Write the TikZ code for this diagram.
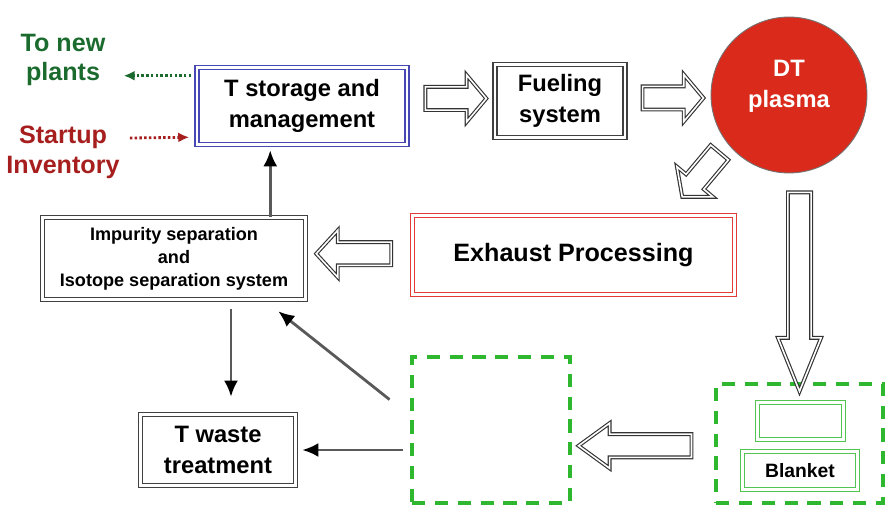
\documentclass[tikz,border=0pt]{standalone}
\usepackage{fontspec}
\setmainfont{Liberation Sans}
\usetikzlibrary{arrows.meta,positioning,shapes.arrows,calc}
\definecolor{boxblue}{HTML}{4848B4}
\definecolor{boxred}{HTML}{E23A36}
\definecolor{dashgreen}{HTML}{2FB82F}
\definecolor{lightgreen}{HTML}{52C452}
\definecolor{plasmared}{HTML}{D92A1C}
\definecolor{textgreen}{HTML}{1B6B2E}
\definecolor{textred}{HTML}{A61E1E}

\begin{document}
\begin{tikzpicture}[
    x=0.02cm, y=-0.02cm,
    font=\bfseries\fontsize{13.5}{17.5}\selectfont,
    dbox/.style={draw=#1, double=white, line width=0.9pt, double distance=1.3pt, align=center, inner sep=0pt},
    dbox/.default=black!75,
    zone/.style={draw=dashgreen, line width=2.8pt, dash pattern=on 7.5pt off 5.5pt},
    fatarrow/.style={single arrow, draw=black!80, double=white, line width=0.65pt, double distance=0.9pt,
      inner xsep=0pt, inner ysep=0.22cm, single arrow head extend=0.24cm, outer sep=0pt},
    flow/.style={draw=black!65, line width=1.6pt, -{Latex[length=3.2mm,width=2.8mm,color=black]}},
    feed/.style={draw=#1, line width=1.6pt, dash pattern=on 1.4pt off 1.3pt, -{Latex[length=2.2mm,width=2mm]}},
    side/.style={align=center, inner sep=0pt, font=\bfseries\fontsize{14.3}{17}\selectfont}
  ]
    \useasboundingbox (0,0) rectangle (889,506);

    \node[dbox=boxblue, minimum width=4.2cm, minimum height=1.54cm] (storage) at (302,106) {T storage and\\management};
    \node[dbox, minimum width=2.6cm, minimum height=1.46cm] (fueling) at (560,101) {Fueling\\system};
    \node[circle, fill=plasmared, draw=black!55, line width=0.5pt, minimum size=3.12cm] (plasma) at (789,95) {};
    \node[text=white, align=center] (plasmatext) at ($(plasma.center)+(0,-9)$) {DT\\plasma};
    \node[dbox=boxred, minimum width=6.44cm, minimum height=1.58cm, font=\bfseries\fontsize{14.3}{17}\selectfont] (exhaust) at (573.5,255) {Exhaust Processing};
    \node[dbox, minimum width=5.26cm, minimum height=1.64cm, font=\bfseries\fontsize{10.3}{13}\selectfont] (impurity) at (174,258.5) {Impurity separation\\and\\Isotope separation system};
    \node[dbox, minimum width=3.1cm, minimum height=1.42cm] (waste) at (218,450) {T waste\\treatment};
    \node[zone, minimum width=3.16cm, minimum height=2.92cm] (extraction) at (491,430) {};
    \node[zone, minimum width=3.34cm, minimum height=2.38cm] (breeding) at (799.5,443.5) {};
    \node[dbox=lightgreen, minimum width=1.72cm, minimum height=0.74cm] (module) at (800.5,421) {};
    \node[dbox=lightgreen, minimum width=2.3cm, minimum height=0.76cm, font=\bfseries\fontsize{11}{13}\selectfont] (blanket) at (800,470.5) {Blanket};

    \node[side, text=textgreen] (newplants) at (63,60) {To new\\plants};
    \node[side, text=textred] (startup) at (63,152) {Startup\\Inventory};

    \node[fatarrow, minimum height=1.22cm, single arrow tip angle=100] (a1) at ($(storage.east)!0.5!(fueling.west)+(0,-5)$) {};
    \node[fatarrow, minimum height=1.22cm, single arrow tip angle=100] (a2) at ($(fueling.east)!0.5!(plasma.west)$) {};
    \node[fatarrow, minimum height=1.5cm, single arrow tip angle=95, rotate=180] (a3) at ($(impurity.east)!0.5!(exhaust.west)+(0,-3)$) {};
    \node[fatarrow, minimum height=1.16cm, single arrow tip angle=100, rotate=230] (a4) at ($(plasma.center)+(-85,76)$) {};
    \node[fatarrow, minimum height=3.98cm, single arrow tip angle=44, single arrow head extend=0.2cm, rotate=-90] (a5) at ($(breeding.north |- plasma.south)!0.5!(breeding.north)$) {};
    \node[fatarrow, minimum height=2.26cm, single arrow tip angle=72, single arrow head extend=0.22cm, rotate=180] (a6) at ($(breeding.west)!0.5!(extraction.east)+(0,9)$) {};

    \draw[flow, shorten >=0.1cm] ($(impurity.north east)+(-36,0)$) coordinate (up) -- (up |- storage.south);
    \draw[flow, shorten <=0.17cm, shorten >=0.34cm] ($(impurity.south)+(57,0)$) coordinate (down) -- (down |- waste.north);
    \draw[flow, shorten <=0.14cm, shorten >=0.12cm] (extraction.west |- waste.east) -- (waste.east);
    \draw[flow] ($(extraction.north west)+(-20,45)$) -- ($(impurity.south east)+(-28,11)$);

    \draw[feed=textgreen, shorten >=0.36cm] ($(storage.north west)+(-5,9)$) coordinate (outlet) -- (outlet -| newplants.east);
    \draw[feed=textred] ($(startup.east)+(10,-14)$) -- ($(storage.south west)+(-7,-8)$);
  \end{tikzpicture}
\end{document}
